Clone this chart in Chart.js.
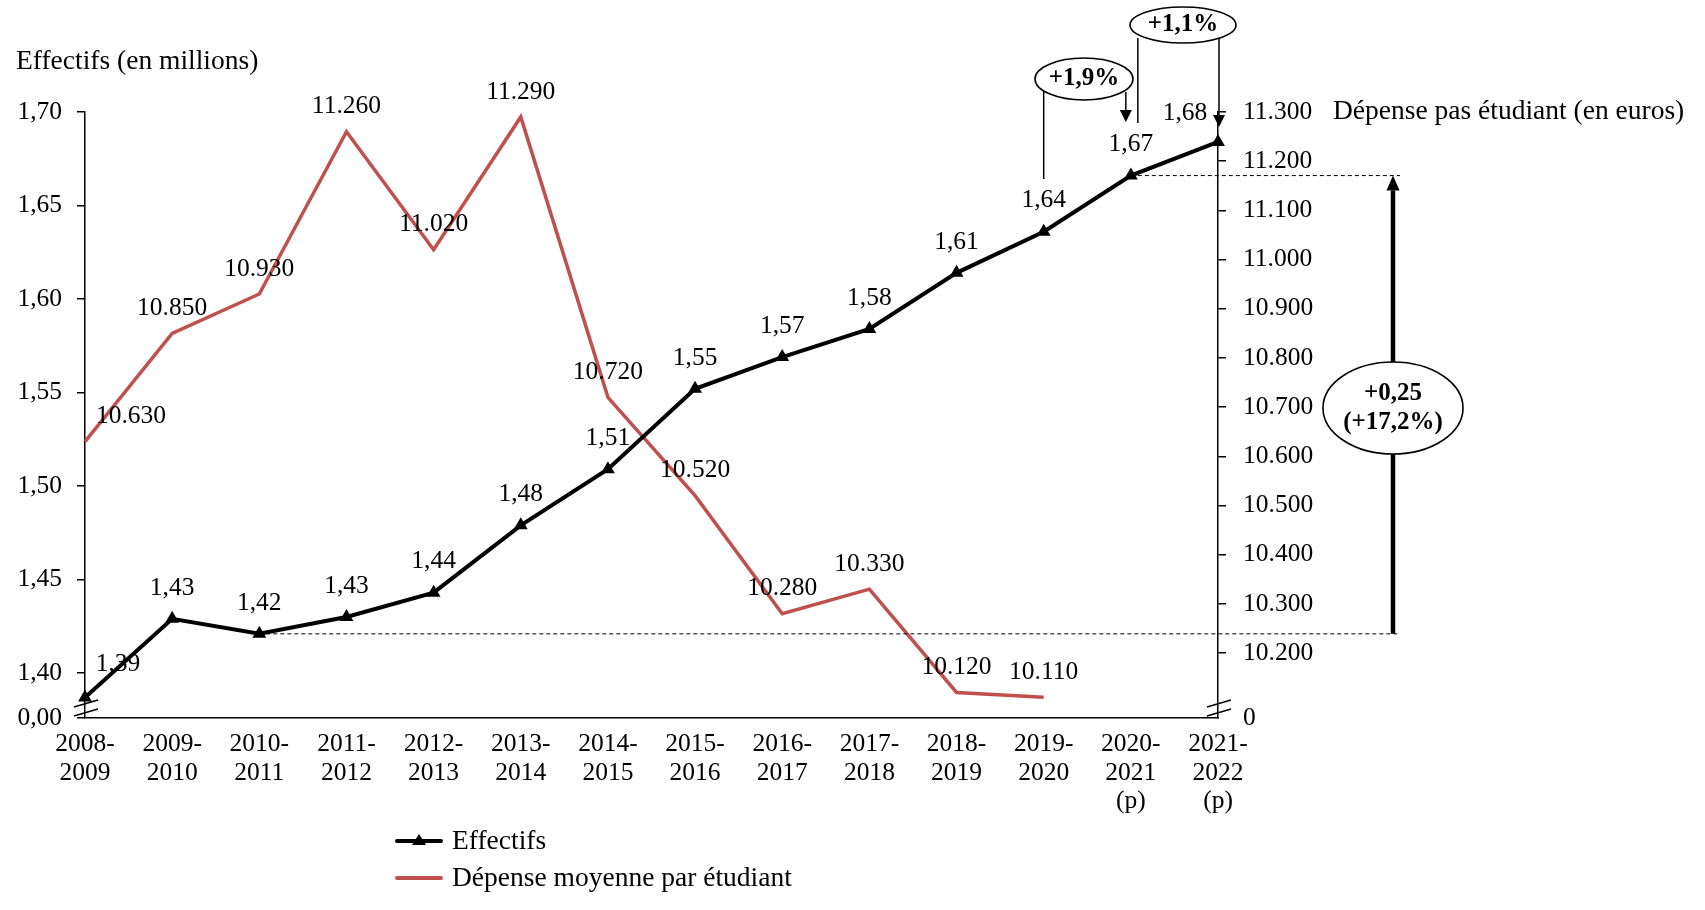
<!DOCTYPE html>
<html lang="fr">
<head>
  <meta charset="UTF-8" />
  <title>Effectifs et dépense moyenne par étudiant</title>
  <script src="https://cdn.jsdelivr.net/npm/chart.js"></script>
  <style>
    html, body { margin: 0; padding: 0; background: #fff; }
    #wrap { width: 1705px; height: 910px; }
  </style>
</head>
<body>
  <div id="wrap"><canvas id="chart" width="1705" height="910"></canvas></div>
  <script>
    // Années universitaires (p = provisoire)
    const annees = [
      ['2008-', '2009'], ['2009-', '2010'], ['2010-', '2011'], ['2011-', '2012'],
      ['2012-', '2013'], ['2013-', '2014'], ['2014-', '2015'], ['2015-', '2016'],
      ['2016-', '2017'], ['2017-', '2018'], ['2018-', '2019'], ['2019-', '2020'],
      ['2020-', '2021', '(p)'], ['2021-', '2022', '(p)']
    ];
    // Effectifs (en millions)
    const effectifs = [1.387, 1.429, 1.421, 1.430, 1.443, 1.479, 1.509, 1.552, 1.569, 1.584, 1.614, 1.636, 1.666, 1.684];
    // Dépense moyenne par étudiant (en euros)
    const depense = [10630, 10850, 10930, 11260, 11020, 11290, 10720, 10520, 10280, 10330, 10120, 10110];

    // Graduations des deux axes (axes coupés : le bas est étiqueté 0)
    const effTicks = [1.40, 1.45, 1.50, 1.55, 1.60, 1.65, 1.70];
    const depTicks = [10200, 10300, 10400, 10500, 10600, 10700, 10800, 10900, 11000, 11100, 11200, 11300];
    const EFF_MIN = 1.376;
    const DEP_MIN = 10068;

    const ROUGE = '#C0504D';
    const SERIF = '"Liberation Serif", "DejaVu Serif", serif';
    const TXT = '27.5px ' + SERIF;

    const fmtEff = v => v.toFixed(2).replace('.', ',');
    const fmtDep = v => Math.round(v).toString().replace(/\B(?=(\d{3})+(?!\d))/g, '.');

    // Étiquettes des valeurs au-dessus des points
    const etiquettes = {
      id: 'etiquettes',
      afterDatasetsDraw(chart) {
        const ctx = chart.ctx;
        ctx.save();
        ctx.font = '25.5px ' + SERIF;
        ctx.fillStyle = '#000';
        ctx.textAlign = 'center';
        ctx.textBaseline = 'middle';
        chart.getDatasetMeta(0).data.forEach((pt, i) => {
          let dx = 0, dy = -31;
          if (i === 0) { dx = 33; dy = -33; }
          if (i === effectifs.length - 1) { dx = -33; dy = -29; }
          ctx.fillText(fmtEff(effectifs[i]), pt.x + dx, pt.y + dy);
        });
        chart.getDatasetMeta(1).data.forEach((pt, i) => {
          let dx = 0, dy = -25;
          if (i === 0) { dx = 46; dy = -25; }
          ctx.fillText(fmtDep(depense[i]), pt.x + dx, pt.y + dy);
        });
        ctx.restore();
      }
    };

    function fleche(ctx, x, y1, y2, lw, hw, hh) {
      // trait vertical de y1 vers y2, pointe en y2
      const dir = y2 > y1 ? 1 : -1;
      ctx.lineWidth = lw;
      ctx.beginPath();
      ctx.moveTo(x, y1);
      ctx.lineTo(x, y2 - dir * hh);
      ctx.stroke();
      ctx.beginPath();
      ctx.moveTo(x, y2);
      ctx.lineTo(x - hw / 2, y2 - dir * hh);
      ctx.lineTo(x + hw / 2, y2 - dir * hh);
      ctx.closePath();
      ctx.fill();
    }

    function bulle(ctx, cx, cy, rx, ry, lignes) {
      ctx.beginPath();
      ctx.ellipse(cx, cy, rx, ry, 0, 0, Math.PI * 2);
      ctx.fillStyle = '#fff';
      ctx.fill();
      ctx.lineWidth = 1.6;
      ctx.strokeStyle = '#000';
      ctx.stroke();
      ctx.fillStyle = '#000';
      ctx.font = 'bold 25px ' + SERIF;
      ctx.textAlign = 'center';
      ctx.textBaseline = 'middle';
      const lh = 29;
      lignes.forEach((t, k) => ctx.fillText(t, cx, cy + (k - (lignes.length - 1) / 2) * lh));
    }

    // Annotations, titres d'axes, coupures et légende
    const annotations = {
      id: 'annotations',
      afterDraw(chart) {
        const ctx = chart.ctx;
        const x = chart.scales.x;
        const pts = chart.getDatasetMeta(0).data;
        const area = chart.chartArea;
        ctx.save();
        ctx.strokeStyle = '#000';
        ctx.fillStyle = '#000';

        // Titres des axes
        ctx.font = TXT;
        ctx.textBaseline = 'middle';
        ctx.textAlign = 'left';
        ctx.fillText('Effectifs (en millions)', 16, 62);
        ctx.fillText('Dépense pas étudiant (en euros)', 1333, area.top);

        // Lignes pointillées de référence (2010-2011 et 2020-2021)
        const xFin = 1400;
        const yBas = pts[2].y, yHaut = pts[12].y;
        ctx.lineWidth = 1;
        ctx.setLineDash([4, 3]);
        ctx.beginPath();
        ctx.moveTo(pts[2].x, yBas); ctx.lineTo(xFin, yBas);
        ctx.moveTo(pts[12].x, yHaut); ctx.lineTo(xFin, yHaut);
        ctx.stroke();
        ctx.setLineDash([]);

        // Grande flèche +0,25 (+17,2%)
        const xF = 1393;
        fleche(ctx, xF, yBas, yHaut, 4.5, 13, 15);
        bulle(ctx, xF, 408, 70, 46, ['+0,25', '(+17,2%)']);

        // +1,9%
        const x19 = x.getPixelForValue(11), x20 = x.getPixelForValue(12), x21 = x.getPixelForValue(13);
        ctx.lineWidth = 1.5;
        ctx.beginPath();
        ctx.moveTo(x19, 88); ctx.lineTo(x19, 179);
        ctx.stroke();
        fleche(ctx, x20 - 5, 92, 122, 1.5, 12, 12);
        bulle(ctx, 1084, 79, 49, 21, ['+1,9%']);

        // +1,1%
        ctx.fillStyle = '#000';
        ctx.lineWidth = 1.5;
        ctx.beginPath();
        ctx.moveTo(x20 + 7, 38); ctx.lineTo(x20 + 7, 123);
        ctx.stroke();
        fleche(ctx, x21 + 1, 38, 127, 1.5, 12, 12);
        bulle(ctx, 1183, 25, 53, 18, ['+1,1%']);

        // Coupures des axes
        ctx.lineWidth = 1.5;
        ctx.beginPath();
        [area.left, area.right].forEach(bx => {
          ctx.moveTo(bx - 11, area.bottom - 11); ctx.lineTo(bx + 13, area.bottom - 18);
          ctx.moveTo(bx - 11, area.bottom - 2); ctx.lineTo(bx + 13, area.bottom - 9);
        });
        ctx.stroke();

        // Légende
        ctx.lineCap = 'round';
        ctx.lineWidth = 4;
        ctx.strokeStyle = '#000';
        ctx.beginPath(); ctx.moveTo(397, 841); ctx.lineTo(441, 841); ctx.stroke();
        ctx.beginPath();
        ctx.moveTo(419, 834); ctx.lineTo(426, 845); ctx.lineTo(412, 845); ctx.closePath();
        ctx.fill();
        ctx.strokeStyle = ROUGE;
        ctx.beginPath(); ctx.moveTo(397, 878); ctx.lineTo(441, 878); ctx.stroke();
        ctx.fillStyle = '#000';
        ctx.font = TXT;
        ctx.textAlign = 'left';
        ctx.fillText('Effectifs', 452, 842);
        ctx.fillText('Dépense moyenne par étudiant', 452, 879);
        ctx.restore();
      }
    };

    const ctx = document.getElementById('chart').getContext('2d');
    const chart = new Chart(ctx, {
      type: 'line',
      data: {
        labels: annees,
        datasets: [{
          label: 'Effectifs',
          data: effectifs,
          yAxisID: 'y',
          borderColor: '#000',
          backgroundColor: '#000',
          borderWidth: 4,
          pointStyle: 'triangle',
          pointRadius: 8,
          pointBorderWidth: 0,
          tension: 0,
          clip: false
        }, {
          label: 'Dépense moyenne par étudiant',
          data: depense,
          yAxisID: 'y2',
          borderColor: ROUGE,
          backgroundColor: ROUGE,
          borderWidth: 3.5,
          pointRadius: 0,
          tension: 0,
          clip: false
        }]
      },
      options: {
        responsive: false,
        animation: false,
        layout: { padding: { top: 112, left: 0, right: 0, bottom: 0 } },
        plugins: { legend: { display: false }, tooltip: { enabled: false } },
        scales: {
          x: {
            offset: false,
            grid: { display: false, drawTicks: false },
            border: { display: true, color: '#000', width: 1.5 },
            ticks: {
              color: '#000', padding: 12, maxRotation: 0, autoSkip: false,
              font: { family: SERIF, size: 25.5, lineHeight: 1.12 }
            },
            afterFit: s => { s.height = 192; }
          },
          y: {
            position: 'left',
            min: EFF_MIN, max: 1.70,
            afterBuildTicks: s => { s.ticks = [EFF_MIN, ...effTicks].map(v => ({ value: v })); },
            grid: { drawOnChartArea: false, drawTicks: true, tickLength: 8, color: '#000', lineWidth: 1.5 },
            border: { display: true, color: '#000', width: 1.5 },
            ticks: {
              color: '#000', padding: 15,
              font: { family: SERIF, size: 25.5 },
              callback: v => v === EFF_MIN ? '0,00' : fmtEff(v)
            },
            afterFit: s => { s.width = 85; }
          },
          y2: {
            position: 'right',
            min: DEP_MIN, max: 11300,
            afterBuildTicks: s => { s.ticks = [DEP_MIN, ...depTicks].map(v => ({ value: v })); },
            grid: {
              drawOnChartArea: false, drawTicks: true, tickLength: 8, lineWidth: 1.5,
              color: c => (c.tick && c.tick.value === DEP_MIN) ? 'rgba(0,0,0,0)' : '#000'
            },
            border: { display: true, color: '#000', width: 1.5 },
            ticks: {
              color: '#000', padding: 17,
              font: { family: SERIF, size: 25.5 },
              callback: v => v === DEP_MIN ? '0' : fmtDep(v)
            },
            afterFit: s => { s.width = 487; }
          }
        }
      },
      plugins: [etiquettes, annotations]
    });
  </script>
</body>
</html>
